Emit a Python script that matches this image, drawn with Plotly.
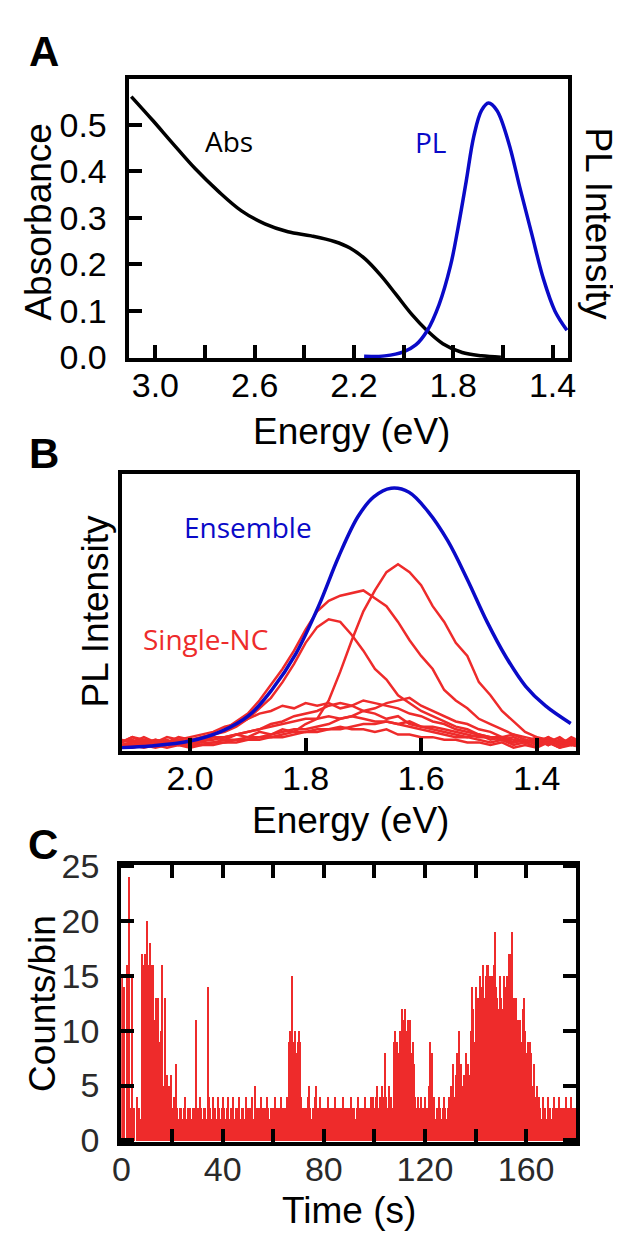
import plotly.graph_objects as go

W, H = 621, 1239

# ---------------- Panel A: absorbance + ensemble PL ----------------
abs_energy = [3.097, 3.011, 2.933, 2.840, 2.746, 2.653, 2.559, 2.466, 2.372, 2.279,
              2.216, 2.154, 2.092, 2.029, 1.967, 1.905, 1.842, 1.764, 1.686, 1.608]
abs_value = [0.561, 0.510, 0.462, 0.406, 0.357, 0.315, 0.287, 0.270, 0.261, 0.249,
             0.235, 0.211, 0.176, 0.134, 0.092, 0.057, 0.029, 0.010, 0.003, 0.000]

pl_energy = [2.159, 2.076, 1.998, 1.951, 1.905, 1.857, 1.811, 1.780, 1.748, 1.717,
             1.686, 1.658, 1.624, 1.577, 1.531, 1.484, 1.437, 1.390, 1.342]
pl_value = [0.003, 0.005, 0.022, 0.048, 0.104, 0.207, 0.360, 0.512, 0.691, 0.870,
            0.971, 1.000, 0.971, 0.845, 0.665, 0.486, 0.309, 0.181, 0.106]

# ---------------- Panel B: ensemble vs single-NC spectra ----------------
ens_energy = [2.118, 2.068, 2.000, 1.946, 1.898, 1.858, 1.817, 1.777, 1.743, 1.709, 1.682,
              1.652, 1.621, 1.588, 1.554, 1.520, 1.486, 1.453, 1.419, 1.385, 1.341]
ens_value = [0.010, 0.016, 0.035, 0.072, 0.133, 0.232, 0.368, 0.553, 0.738, 0.893, 0.967,
             1.000, 0.985, 0.911, 0.800, 0.652, 0.491, 0.356, 0.244, 0.170, 0.102]

# single-NC spectra sampled from 2.12 eV down to 1.32 eV every 0.02 eV
nc_e0, nc_de = 2.12, -0.02
nc1 = [0.04, 0.03, 0.05, 0.03, 0.04, 0.02, 0.04, 0.03, 0.05, 0.04, 0.06, 0.05, 0.07, 0.06,
       0.08, 0.07, 0.10, 0.12, 0.19, 0.30, 0.42, 0.53, 0.61, 0.68, 0.71, 0.68, 0.63, 0.55,
       0.49, 0.41, 0.36, 0.26, 0.21, 0.15, 0.11, 0.07, 0.05, 0.04, 0.02, 0.05, 0.03]
nc2 = [0.03, 0.05, 0.03, 0.04, 0.03, 0.05, 0.04, 0.05, 0.06, 0.08, 0.11, 0.14, 0.19, 0.25,
       0.31, 0.38, 0.46, 0.53, 0.57, 0.59, 0.60, 0.61, 0.58, 0.55, 0.49, 0.42, 0.36, 0.31,
       0.23, 0.19, 0.16, 0.12, 0.10, 0.08, 0.06, 0.05, 0.04, 0.03, 0.05, 0.02, 0.04]
nc3 = [0.03, 0.04, 0.02, 0.04, 0.03, 0.04, 0.03, 0.05, 0.06, 0.07, 0.09, 0.12, 0.16, 0.20,
       0.26, 0.33, 0.41, 0.47, 0.50, 0.49, 0.44, 0.38, 0.31, 0.27, 0.21, 0.18, 0.15, 0.13,
       0.11, 0.09, 0.08, 0.06, 0.05, 0.04, 0.05, 0.03, 0.04, 0.02, 0.04, 0.03, 0.02]
nc4 = [0.03, 0.05, 0.04, 0.03, 0.05, 0.04, 0.05, 0.06, 0.07, 0.09, 0.10, 0.12, 0.14, 0.15,
       0.17, 0.16, 0.18, 0.17, 0.18, 0.16, 0.17, 0.15, 0.14, 0.12, 0.13, 0.10, 0.09, 0.08,
       0.07, 0.06, 0.05, 0.06, 0.04, 0.05, 0.03, 0.04, 0.02, 0.05, 0.03, 0.04, 0.02]
nc5 = [0.02, 0.03, 0.04, 0.02, 0.03, 0.04, 0.03, 0.04, 0.05, 0.05, 0.06, 0.07, 0.08, 0.10,
       0.11, 0.13, 0.14, 0.15, 0.17, 0.18, 0.17, 0.19, 0.18, 0.17, 0.16, 0.14, 0.13, 0.11,
       0.10, 0.08, 0.07, 0.06, 0.05, 0.05, 0.04, 0.03, 0.05, 0.02, 0.04, 0.03, 0.01]
nc6 = [0.02, 0.03, 0.02, 0.03, 0.02, 0.03, 0.02, 0.03, 0.03, 0.04, 0.04, 0.05, 0.05, 0.06,
       0.07, 0.08, 0.08, 0.09, 0.10, 0.12, 0.13, 0.15, 0.16, 0.18, 0.19, 0.20, 0.17, 0.15,
       0.13, 0.11, 0.10, 0.08, 0.07, 0.05, 0.06, 0.04, 0.03, 0.05, 0.02, 0.04, 0.03]
nc7 = [0.02, 0.02, 0.03, 0.02, 0.03, 0.03, 0.02, 0.04, 0.04, 0.05, 0.06, 0.07, 0.08, 0.09,
       0.10, 0.11, 0.12, 0.12, 0.13, 0.12, 0.13, 0.12, 0.11, 0.11, 0.10, 0.09, 0.08, 0.07,
       0.06, 0.05, 0.05, 0.04, 0.03, 0.04, 0.02, 0.03, 0.01, 0.04, 0.02, 0.03, 0.01]
nc8 = [0.01, 0.02, 0.01, 0.02, 0.01, 0.02, 0.02, 0.02, 0.03, 0.03, 0.04, 0.04, 0.05, 0.05,
       0.06, 0.07, 0.07, 0.08, 0.08, 0.09, 0.08, 0.08, 0.07, 0.08, 0.06, 0.06, 0.05, 0.05,
       0.04, 0.04, 0.03, 0.03, 0.02, 0.03, 0.01, 0.02, 0.01, 0.03, 0.01, 0.02, 0.01]
nc9 = [0.02, 0.01, 0.02, 0.01, 0.02, 0.02, 0.01, 0.02, 0.02, 0.03, 0.03, 0.04, 0.04, 0.05,
       0.05, 0.06, 0.07, 0.07, 0.08, 0.08, 0.09, 0.10, 0.10, 0.11, 0.10, 0.11, 0.09, 0.09,
       0.08, 0.07, 0.06, 0.05, 0.05, 0.04, 0.03, 0.04, 0.02, 0.03, 0.01, 0.03, 0.02]

# ---------------- Panel C: blinking trace (0.5 s bins) ----------------
bin_width = 0.5
counts = [
    15, 3, 14, 0, 16, 2, 24, 3, 15, 2, 3, 0, 4, 3, 3, 2, 17, 16, 17, 0,
    20, 16, 18, 16, 13, 16, 11, 13, 10, 13, 9, 10, 16, 5, 13, 6, 6, 5, 4, 6,
    3, 4, 2, 7, 3, 2, 3, 3, 2, 3, 4, 2, 3, 3, 3, 2, 3, 2, 3, 11,
    3, 2, 4, 3, 2, 3, 3, 2, 14, 4, 3, 2, 4, 3, 3, 2, 4, 3, 2, 3,
    4, 3, 2, 3, 4, 2, 3, 3, 4, 2, 3, 2, 3, 4, 2, 3, 3, 2, 4, 3,
    2, 3, 3, 4, 2, 5, 3, 2, 3, 3, 4, 2, 3, 3, 2, 4, 3, 2, 3, 3,
    3, 4, 2, 3, 3, 2, 4, 3, 3, 2, 3, 4, 9, 10, 9, 15, 9, 10, 8, 9,
    10, 9, 4, 3, 2, 3, 3, 4, 5, 3, 2, 3, 3, 4, 5, 3, 2, 4, 3, 3,
    2, 3, 3, 4, 2, 3, 3, 2, 3, 4, 3, 2, 3, 3, 2, 4, 3, 3, 2, 3,
    3, 4, 2, 3, 3, 2, 3, 4, 3, 3, 2, 3, 4, 3, 2, 3, 3, 4, 2, 4,
    3, 4, 5, 3, 4, 3, 5, 4, 8, 4, 3, 5, 4, 4, 3, 9, 10, 7, 9, 8,
    10, 7, 12, 11, 12, 10, 11, 9, 11, 8, 9, 7, 4, 3, 4, 3, 2, 4, 3, 3,
    4, 3, 3, 5, 9, 8, 3, 4, 2, 3, 3, 4, 3, 2, 3, 4, 3, 2, 3, 4,
    5, 3, 7, 4, 6, 8, 5, 10, 7, 5, 4, 6, 8, 5, 7, 6, 10, 14, 12, 9,
    14, 10, 13, 15, 14, 12, 16, 13, 15, 16, 16, 15, 13, 15, 16, 19, 14, 13, 12, 15,
    13, 12, 15, 14, 10, 15, 17, 16, 17, 19, 13, 12, 13, 11, 10, 11, 9, 12, 13, 10,
    8, 9, 7, 9, 8, 5, 7, 4, 5, 3, 4, 3, 2, 4, 3, 3, 2, 4, 3, 3,
    2, 3, 4, 3, 3, 2, 4, 3, 2, 3, 3, 4, 2, 3, 3, 4, 2, 3, 3, 3,
]

BLUE = "#0a0ac8"
RED = "#ee2b2b"
TICK_FONT = dict(family="Liberation Sans, Arial", size=34, color="black")


def px_x(a, b):
    return [a / W, b / W]


def px_y(top, bottom):
    return [1 - bottom / H, 1 - top / H]


fig = go.Figure()

# panel A
fig.add_trace(go.Scatter(x=abs_energy, y=abs_value, mode="lines", line_shape="spline",
                         line=dict(color="black", width=3.5), xaxis="x", yaxis="y"))
fig.add_trace(go.Scatter(x=pl_energy, y=pl_value, mode="lines", line_shape="spline",
                         line=dict(color=BLUE, width=3.5), xaxis="x", yaxis="y2"))

# panel B
for spec in [nc1, nc2, nc3, nc4, nc5, nc6, nc7, nc8, nc9]:
    fig.add_trace(go.Scatter(x0=nc_e0, dx=nc_de, y=spec, mode="lines",
                             line=dict(color=RED, width=2.5), xaxis="x2", yaxis="y3"))
fig.add_trace(go.Scatter(x=ens_energy, y=ens_value, mode="lines", line_shape="spline",
                         line=dict(color=BLUE, width=3.5), xaxis="x2", yaxis="y3"))

# panel C
fig.add_trace(go.Bar(x0=bin_width / 2, dx=bin_width, y=counts, marker_color=RED,
                     marker_line_width=0, xaxis="x3", yaxis="y4"))

frame = dict(showline=True, linewidth=4, linecolor="black", showgrid=False,
             zeroline=False, ticks="inside", ticklen=13, tickwidth=4, tickcolor="black",
             tickfont=TICK_FONT)
minor = dict(ticks="inside", ticklen=13, tickwidth=4, tickcolor="black")

pl_scale = 0.547
fig.update_layout(
    width=W, height=H, margin=dict(l=0, r=0, t=0, b=0),
    paper_bgcolor="white", plot_bgcolor="white", showlegend=False, bargap=0,
    xaxis=dict(frame, domain=px_x(114.5, 566), range=[3.108, 1.336], anchor="y",
               mirror=True, tick0=1.4, dtick=0.4, tickformat=".1f",
               ticklabelstandoff=-6, minor=dict(minor, tick0=1.4, dtick=0.2)),
    yaxis=dict(frame, domain=px_y(55, 342), range=[-0.002, 0.598], anchor="x",
               mirror=True, tick0=0, dtick=0.1, tickformat=".1f", ticklabelstandoff=11),
    yaxis2=dict(overlaying="y", anchor="x", range=[-0.002 / pl_scale, 0.598 / pl_scale],
                visible=False),
    xaxis2=dict(frame, domain=px_x(107.7, 573.7), range=[2.118, 1.332], anchor="y3",
                mirror=True, tick0=1.4, dtick=0.2, tickformat=".1f", ticklabelstandoff=-6),
    yaxis3=dict(frame, domain=px_y(461, 747), range=[-0.004, 1.056], anchor="x2",
                mirror=True, ticks="", showticklabels=False),
    xaxis3=dict(frame, domain=px_x(107, 574), range=[-0.1, 179.8], anchor="y4",
                mirror="ticks", tick0=0, dtick=40, ticklabelstandoff=-6,
                tickfont=dict(TICK_FONT, color="#2a2a2a"),
                minor=dict(minor, tick0=0, dtick=20)),
    yaxis4=dict(frame, domain=px_y(864, 1149.5), range=[-0.15, 25.1], anchor="x3",
                mirror="ticks", tick0=0, dtick=5, ticklabelstandoff=11,
                tickfont=dict(TICK_FONT, color="#2a2a2a")),
)


def label(text, x, y, size=37, angle=0, color="black", family="Liberation Sans, Arial",
          bold=False):
    fig.add_annotation(text=f"<b>{text}</b>" if bold else text, x=x / W, y=1 - y / H,
                       xref="paper", yref="paper", showarrow=False, textangle=angle,
                       xanchor="center", yanchor="middle",
                       font=dict(family=family, size=size, color=color))


# panel letters
label("A", 28, 26, size=42, bold=True)
label("B", 28, 440, size=42, bold=True)
label("C", 27, 843, size=42, bold=True)

# axis titles
label("Absorbance", 22, 202, angle=-90)
label("PL Intensity", 597, 203, angle=90)
label("Energy (eV)", 343, 418)
label("PL Intensity", 81, 603, angle=-90)
label("Energy (eV)", 342, 818)
label("Counts/bin", 26, 1007, angle=-90)
label("Time (s)", 341, 1220)

# in-plot labels
label("Abs", 218, 118, size=28, family="Open Sans")
label("PL", 424, 119, size=28, color=BLUE, family="Open Sans")
label("Ensemble", 237, 516, size=28, color=BLUE, family="Open Sans")
label("Single-NC", 193, 631, size=28, color=RED, family="Open Sans")

fig.write_html("out.html", config={"displayModeBar": False})
